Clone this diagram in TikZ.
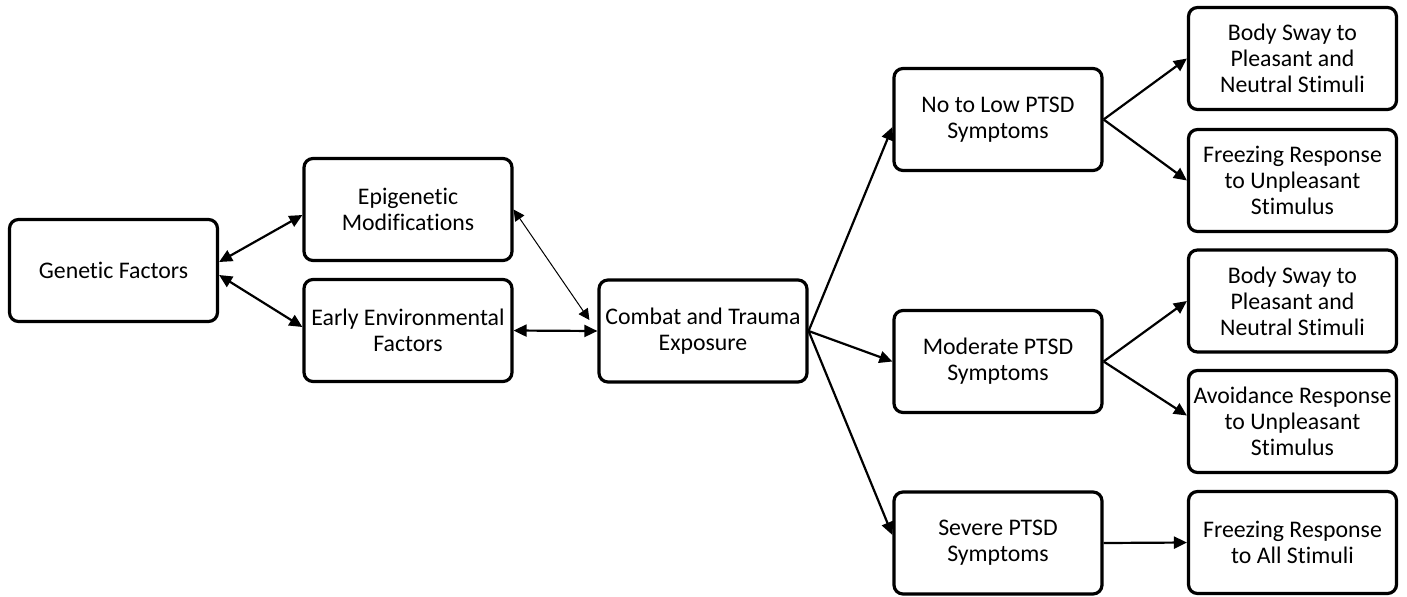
\documentclass[tikz,border=0pt]{standalone}
\usepackage{fontspec}
\setmainfont{Carlito}[Ligatures={CommonOff,ContextualOff},Contextuals=AlternateOff]
\usetikzlibrary{arrows.meta}

\begin{document}
\begin{tikzpicture}[x=0.5pt,y=-0.5pt,
        box/.style={draw,rounded corners=4.5pt,line width=1.6pt,minimum width=104pt,minimum height=51pt,
            inner sep=1pt,align=center,font=\fontsize{11.9pt}{13pt}\selectfont},
        link/.style={line width=1.1pt,-{Triangle[length=6.5pt,width=6pt]}},
        both/.style={line width=1.1pt,{Triangle[length=6.5pt,width=6pt]}-{Triangle[length=6.5pt,width=6pt]}},
        thinboth/.style={line width=0.5pt,{Triangle[length=5.5pt,width=5.5pt]}-{Triangle[length=5.5pt,width=5.5pt]}}]
        \useasboundingbox (0,0) rectangle (1407,596);

        % Faktoren
        \node[box] (gen) at (113.5,270.5) {Genetic Factors};
        \node[box] (epi) at (408,209.5) {Epigenetic\\ Modifications};
        \node[box] (env) at (408,330.5) {Early Environmental\\ Factors};
        \node[box] (combat) at (703,331) {Combat and Trauma\\ Exposure};

        % Symptome
        \node[box] (low) at (998,119.5) {No to Low PTSD\\ Symptoms};
        \node[box] (mod) at (998,361.5) {Moderate PTSD\\ Symptoms};
        \node[box] (sev) at (998,543) {Severe PTSD\\ Symptoms};

        % Reaktionen
        \node[box] (swayA) at (1292.5,58.5) {Body Sway to\\ Pleasant and\\ Neutral Stimuli};
        \node[box] (freezeA) at (1292.5,180.5) {Freezing Response\\ to Unpleasant\\ Stimulus};
        \node[box] (swayB) at (1292.5,301) {Body Sway to\\ Pleasant and\\ Neutral Stimuli};
        \node[box] (avoid) at (1292.5,421.5) {Avoidance Response\\ to Unpleasant\\ Stimulus};
        \node[box] (freezeB) at (1292.5,542.5) {Freezing Response\\ to All Stimuli};

        % Relationen
        \draw[both] ([yshift=4.25pt]gen.east) -- ([yshift=-2.75pt]epi.west);
        \draw[both] ([yshift=-2.25pt]gen.east) -- ([yshift=1.75pt]env.west);
        \draw[thinboth] (epi.east) -- ([xshift=-4pt,yshift=5.5pt]combat.west);
        \draw[both] (env.east) -- (combat.west);
        \draw[link] (combat.east) -- ([yshift=-3.75pt]low.west);
        \draw[link] (combat.east) -- (mod.west);
        \draw[link] (combat.east) -- ([yshift=4pt]sev.west);
        \draw[link] (low.east) -- (swayA.west);
        \draw[link] (low.east) -- (freezeA.west);
        \draw[link] (mod.east) -- (swayB.west);
        \draw[link] (mod.east) -- ([yshift=3pt]avoid.west);
        \draw[link] (sev.east) -- (freezeB.west);
    \end{tikzpicture}
\end{document}
